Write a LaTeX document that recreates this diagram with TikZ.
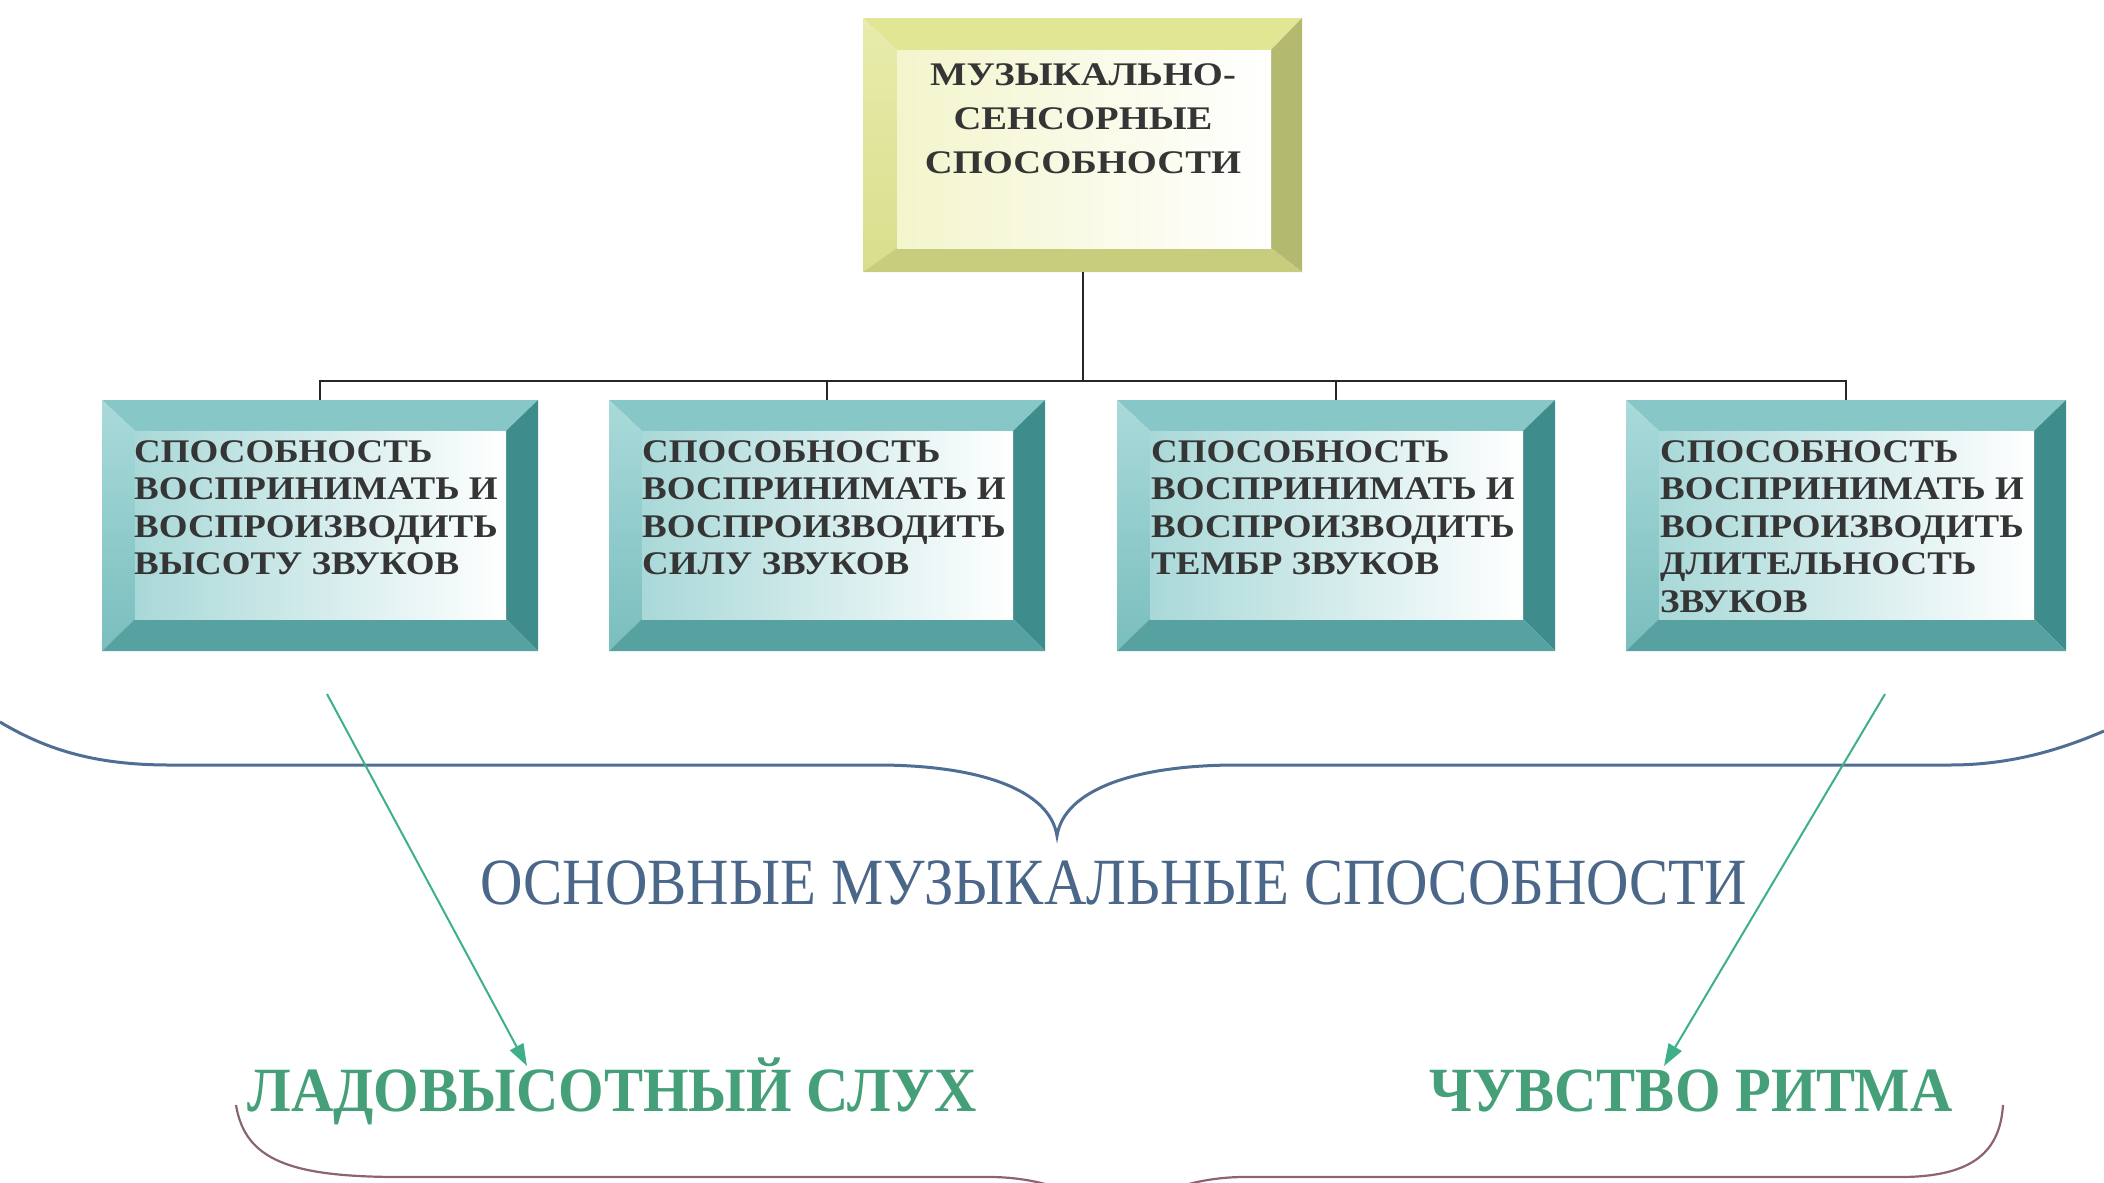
\documentclass[tikz,border=0pt]{standalone}
\usepackage{fontspec}
\setmainfont{Liberation Serif}
\newfontfamily\boxf{Liberation Serif}[FakeStretch=1.12]
\newfontfamily\topf{Liberation Serif}[FakeStretch=1.17]
\newfontfamily\midf{Liberation Serif}[FakeStretch=0.89]
\newfontfamily\grf{Liberation Serif}[FakeStretch=0.93]
\usetikzlibrary{arrows.meta}
\definecolor{tTop}{HTML}{88C7C7}
\definecolor{tLeftA}{HTML}{AADADA}
\definecolor{tLeftB}{HTML}{7ABEBE}
\definecolor{tRight}{HTML}{3E8D8C}
\definecolor{tBottom}{HTML}{58A1A1}
\definecolor{tFace}{HTML}{A9D8D8}
\definecolor{yTop}{HTML}{E1E695}
\definecolor{yLeftA}{HTML}{E8ECAC}
\definecolor{yLeftB}{HTML}{D8DE8C}
\definecolor{yRight}{HTML}{B3B96F}
\definecolor{yBottom}{HTML}{C8CD7D}
\definecolor{yFace}{HTML}{F3F5CC}
\definecolor{txt}{HTML}{353535}
\definecolor{midblue}{HTML}{4A6689}
\definecolor{brblue}{HTML}{4F6E93}
\definecolor{grtxt}{HTML}{45A07A}
\definecolor{grarr}{HTML}{3DB08A}
\definecolor{brmauve}{HTML}{8C6470}
\def\bL{33}\def\bT{31}\def\bR{32}\def\bB{32}
\newcommand\bevbox[6]{%
  \node[minimum width={(#4-#2)*1pt}, minimum height={(#5-#3)*1pt}, inner sep=0pt, outer sep=0pt] (#1) at ({(#2+#4)/2},{(#3+#5)/2}) {};
  \fill[#6Top] (#2,#3) -- (#4,#3) -- ({#4-\bR},{#3+\bT}) -- ({#2+\bL},{#3+\bT}) -- cycle;
  \shade[top color=#6LeftA, bottom color=#6LeftB] (#2,#3) -- ({#2+\bL},{#3+\bT}) -- ({#2+\bL},{#5-\bB}) -- (#2,#5) -- cycle;
  \fill[#6Right] (#4,#3) -- (#4,#5) -- ({#4-\bR},{#5-\bB}) -- ({#4-\bR},{#3+\bT}) -- cycle;
  \fill[#6Bottom] (#2,#5) -- (#4,#5) -- ({#4-\bR},{#5-\bB}) -- ({#2+\bL},{#5-\bB}) -- cycle;
  \shade[left color=#6Face, middle color=white, right color=white] ({#2+\bL},{#3+\bT}) rectangle ({#4-\bR},{#5-\bB});
}
\tikzset{
  conn/.style={draw=black!85, line width=2pt},
  boxtext/.style={anchor=north west, inner sep=0pt, align=left, text=txt,
    font=\boxf\bfseries\fontsize{33}{37.5}\selectfont},
  toptext/.style={anchor=north, inner sep=0pt, align=center, text=txt,
    font=\topf\bfseries\fontsize{33}{44}\selectfont},
  midtext/.style={anchor=base, inner sep=0pt, text=midblue,
    font=\midf\fontsize{66}{70}\selectfont},
  grtext/.style={anchor=base, inner sep=0pt, text=grtxt,
    font=\grf\bfseries\fontsize{63}{70}\selectfont},
  garrow/.style={draw=grarr, line width=2pt, -{Triangle[length=22pt,width=15pt]}},
  bluebrace/.style={draw=brblue, line width=3pt},
  mauvebrace/.style={draw=brmauve, line width=2.2pt}
}
\begin{document}
\begin{tikzpicture}[x=1pt,y=-1pt]
\useasboundingbox (0,0) rectangle (2104,1183);
\begin{scope}
\clip (0,0) rectangle (2104,1183);
% top box
\def\bL{34}\def\bT{32}\def\bR{31}\def\bB{24}
\bevbox{top}{863}{18}{1302}{272}{y}
% teal boxes
\def\bL{33}\def\bT{31}\def\bR{32}\def\bB{32}
\bevbox{b1}{102}{400}{538}{651}{t}
\bevbox{b2}{609}{400}{1045}{651}{t}
\bevbox{b3}{1117}{400}{1555}{651}{t}
\bevbox{b4}{1626}{400}{2066}{651}{t}
% connectors
\coordinate (bus) at (1082,381);
\draw[conn] (top.south) -- (top.south |- bus);
\draw[conn] (b1.north) -- (b1.north |- bus) -| (b4.north);
\draw[conn] (b2.north) -- (b2.north |- bus);
\draw[conn] (b3.north) -- (b3.north |- bus);
% texts
\node[toptext] (tt) at (1083,63) {МУЗЫКАЛЬНО-\\СЕНСОРНЫЕ\\СПОСОБНОСТИ};
\node[boxtext] (t1) at (134,440) {СПОСОБНОСТЬ\\ВОСПРИНИМАТЬ И\\ВОСПРОИЗВОДИТЬ\\ВЫСОТУ ЗВУКОВ};
\node[boxtext] (t2) at (642,440) {СПОСОБНОСТЬ\\ВОСПРИНИМАТЬ И\\ВОСПРОИЗВОДИТЬ\\СИЛУ ЗВУКОВ};
\node[boxtext] (t3) at (1151,440) {СПОСОБНОСТЬ\\ВОСПРИНИМАТЬ И\\ВОСПРОИЗВОДИТЬ\\ТЕМБР ЗВУКОВ};
\node[boxtext] (t4) at (1660,440) {СПОСОБНОСТЬ\\ВОСПРИНИМАТЬ И\\ВОСПРОИЗВОДИТЬ\\ДЛИТЕЛЬНОСТЬ\\ЗВУКОВ};
% blue brace
\draw[bluebrace] (0,722) .. controls (50,752) and (100,765) .. (170,765) -- (877,765)
  .. controls (980,765) and (1050,790) .. (1057,836)
  .. controls (1064,790) and (1134,765) .. (1237,765) -- (1950,765)
  .. controls (2010,765) and (2060,750) .. (2104,731);
\node[midtext] (mid) at (1114,904) {ОСНОВНЫЕ МУЗЫКАЛЬНЫЕ СПОСОБНОСТИ};
% bottom brace
\draw[mauvebrace] (236,1105) .. controls (245,1160) and (290,1177) .. (400,1177) -- (990,1177)
  .. controls (1040,1177) and (1105,1195) .. (1117,1240)
  .. controls (1129,1195) and (1194,1177) .. (1244,1177) -- (1900,1177)
  .. controls (1975,1177) and (2000,1150) .. (2003,1105);
\node[grtext] (lad) at (612,1111) {ЛАДОВЫСОТНЫЙ СЛУХ};
\node[grtext] (rit) at (1691,1111) {ЧУВСТВО РИТМА};
% arrows
\coordinate (a1s) at (327,694);
\coordinate (a1e) at (527,1066);
\coordinate (a2s) at (1885,694);
\coordinate (a2e) at (1664,1066);
\draw[garrow] (a1s) -- (a1e);
\draw[garrow] (a2s) -- (a2e);
\end{scope}
\end{tikzpicture}
\end{document}
